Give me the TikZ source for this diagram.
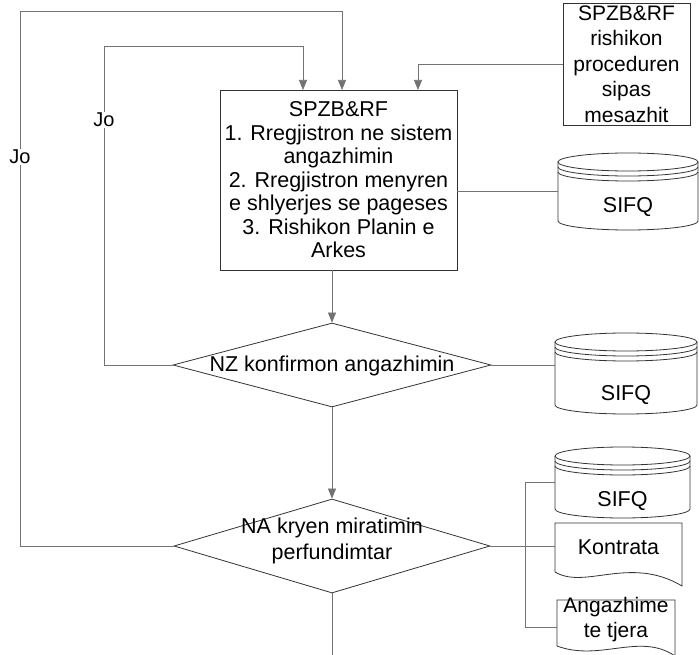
\documentclass[tikz,border=0pt]{standalone}
\usepackage{fontspec}
\setmainfont{Liberation Sans}
\usetikzlibrary{shapes.geometric,arrows.meta}
\begin{document}
\begin{tikzpicture}[x=1pt,y=-1pt,
  txt/.style={font=\fontsize{21.5}{23.5}\selectfont, align=center, inner sep=0pt},
  shapeline/.style={draw=black!80, line width=0.8pt},
  conn/.style={draw=black!55, line width=0.7pt},
  arr/.style={conn, -{Triangle[width=8pt,length=10pt]}},
  jolabel/.style={fill=white, font=\fontsize{20}{22}\selectfont, inner sep=1pt},
  anchorbox/.style={inner sep=0pt, outer sep=0pt}
]
\fill[white] (0,0) rectangle (699,655);
\useasboundingbox (0,0) rectangle (699,655);

% main process box
\node[shapeline, txt, minimum width=237pt, minimum height=180pt] (box) at (338.5,180)
  {SPZB\&RF\\1. Rregjistron ne sistem\\angazhimin\\2. Rregjistron menyren\\e shlyerjes se pageses\\3. Rishikon Planin e\\Arkes};

% right top box
\node[shapeline, txt, font=\fontsize{21}{25.5}\selectfont, minimum width=127pt, minimum height=122pt] (rbox) at (626.5,64)
  {SPZB\&RF\\rishikon\\proceduren\\sipas\\mesazhit};

% diamonds
\node[shapeline, diamond, minimum width=318pt, minimum height=84pt, inner sep=0pt] (nz) at (332,365) {};
\node[txt] (nzt) at (332,366) {NZ konfirmon angazhimin};
\node[shapeline, diamond, minimum width=316pt, minimum height=94pt, inner sep=0pt] (na) at (332,546) {};
\node[txt, font=\fontsize{21.5}{25.5}\selectfont] (nat) at (332,541) {NA kryen miratimin\\perfundimtar};

% SIFQ 1
\node[anchorbox, minimum width=140pt, minimum height=77pt] (s1) at (628,191.5) {};
\draw[shapeline] (628,162) ellipse[x radius=70pt, y radius=9pt];
\draw[shapeline] (558,167) arc[start angle=180, end angle=360, x radius=70pt, y radius=9pt];
\draw[shapeline] (558,172) arc[start angle=180, end angle=360, x radius=70pt, y radius=9pt];
\draw[shapeline] (558,162) -- (558,221) arc[start angle=180, end angle=360, x radius=70pt, y radius=9pt] -- (698,162);
\node[txt] (s1t) at (628,207) {SIFQ};

% SIFQ 2
\node[anchorbox, minimum width=142pt, minimum height=81pt] (s2) at (626,373.5) {};
\draw[shapeline] (626,342) ellipse[x radius=71pt, y radius=9pt];
\draw[shapeline] (555,347) arc[start angle=180, end angle=360, x radius=71pt, y radius=9pt];
\draw[shapeline] (555,352) arc[start angle=180, end angle=360, x radius=71pt, y radius=9pt];
\draw[shapeline] (555,342) -- (555,405) arc[start angle=180, end angle=360, x radius=71pt, y radius=9pt] -- (697,342);
\node[txt] (s2t) at (626,395) {SIFQ};

% SIFQ 3
\node[anchorbox, minimum width=135pt, minimum height=71pt] (s3) at (622.5,482.5) {};
\draw[shapeline] (622.5,456) ellipse[x radius=67.5pt, y radius=9pt];
\draw[shapeline] (555,461) arc[start angle=180, end angle=360, x radius=67.5pt, y radius=9pt];
\draw[shapeline] (555,466) arc[start angle=180, end angle=360, x radius=67.5pt, y radius=9pt];
\draw[shapeline] (555,456) -- (555,509) arc[start angle=180, end angle=360, x radius=67.5pt, y radius=9pt] -- (690,456);
\node[txt] (s3t) at (622.5,501) {SIFQ};

% Kontrata document
\node[anchorbox, minimum width=127pt, minimum height=63pt] (k) at (618.5,554.5) {};
\draw[shapeline] (555,523) -- (682,523) -- (682,586) .. controls (630,555) and (585,590) .. (555,572) -- cycle;
\node[txt] (kt) at (618.5,547) {Kontrata};

% Angazhime te tjera document
\node[anchorbox, minimum width=118pt, minimum height=55pt] (ang) at (616,627.5) {};
\draw[shapeline] (557,600) -- (675,600) -- (675,656) .. controls (640,632) and (600,662) .. (557,646) -- cycle;
\node[txt, font=\fontsize{21}{25}\selectfont] (angt) at (616,620) {Angazhime\\te tjera};

% connectors
\coordinate (in1) at (303,90);
\coordinate (in2) at (342,90);
\coordinate (in3) at (418,90);
\coordinate (c1) at (104,46);
\coordinate (c2) at (20,11);
\coordinate (bx) at (525,546);
\coordinate (endpt) at (332,655);

\draw[arr] (box.south -| nz.north) -- (nz.north);
\draw[arr] (nz.south) -- (na.north);
\draw[conn] (na.south) -- (endpt);

\draw[arr] (nz.west) -- (nz.west -| c1) -- (c1) -- (c1 -| in1) -- (in1);
\draw[arr] (na.west) -- (na.west -| c2) -- (c2) -- (c2 -| in2) -- (in2);
\draw[arr] (rbox.west) -- (rbox.west -| in3) -- (in3);

\node[jolabel] (jo1) at (104,120) {Jo};
\node[jolabel] (jo2) at (20,157) {Jo};

\draw[conn] (s1.west -| box.east) -- (s1.west);
\draw[conn] (nz.east) -- (nz.east -| s2.west);
\draw[conn] (na.east) -- (na.east -| k.west);
\draw[conn] (s3.west -| bx) -- (ang.west -| bx);
\draw[conn] (s3.west -| bx) -- (s3.west);
\draw[conn] (ang.west -| bx) -- (ang.west);
\end{tikzpicture}
\end{document}
